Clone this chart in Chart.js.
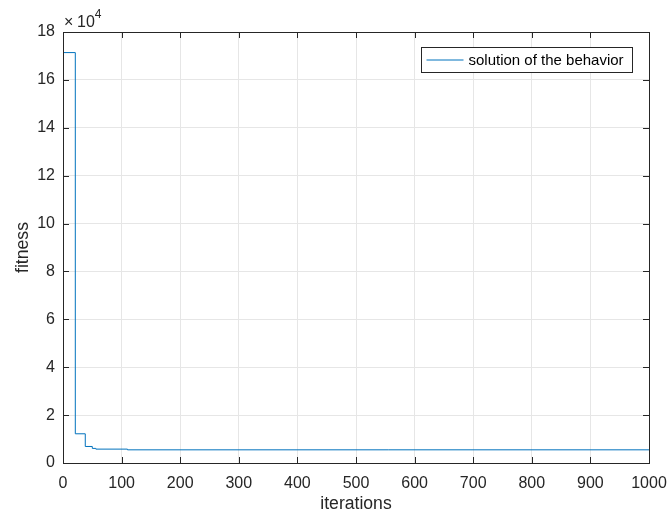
<!DOCTYPE html>
<html>
<head>
<meta charset="utf-8">
<script src="https://cdn.jsdelivr.net/npm/chart.js@4/dist/chart.umd.min.js"></script>
<style>
	html, body { margin: 0; padding: 0; background: #ffffff; }
	#wrap { width: 670px; height: 515px; }
</style>
</head>
<body>
<div id="wrap"><canvas id="fitnessChart" width="670" height="515"></canvas></div>
<script>
// change points of the best fitness (step curve)
const iterations = [1, 21, 38, 50, 56, 110, 1000];
const fitness = [171400, 12200, 6900, 6100, 5800, 5500, 5500];
const seriesLabel = 'solution of the behavior';
const xTicks = [0, 100, 200, 300, 400, 500, 600, 700, 800, 900, 1000];
const yTicks = [0, 2, 4, 6, 8, 10, 12, 14, 16, 18];
const yExponent = 4;

const axisColor = '#262626';
const gridColor = '#e6e6e6';
const lineColor = '#0072BD';
const fontFamily = '"Liberation Sans", Arial, sans-serif';

const points = iterations.map((it, i) => ({ x: it, y: fitness[i] }));

// box, inward ticks, exponent label and legend, matlab style
const matlabAxes = {
	id: 'matlabAxes',
	afterDraw(chart) {
		const { ctx, chartArea: area, scales: { x, y } } = chart;
		const tickLen = 6;
		ctx.save();
		ctx.strokeStyle = axisColor;
		ctx.lineWidth = 1;
		ctx.beginPath();
		xTicks.forEach((v) => {
			const px = Math.round(x.getPixelForValue(v)) + 0.5;
			ctx.moveTo(px, area.bottom);
			ctx.lineTo(px, area.bottom - tickLen);
			ctx.moveTo(px, area.top);
			ctx.lineTo(px, area.top + tickLen);
		});
		yTicks.forEach((v) => {
			const py = Math.round(y.getPixelForValue(v * 10 ** yExponent)) + 0.5;
			ctx.moveTo(area.left, py);
			ctx.lineTo(area.left + tickLen, py);
			ctx.moveTo(area.right, py);
			ctx.lineTo(area.right - tickLen, py);
		});
		ctx.stroke();
		ctx.strokeRect(Math.round(area.left) + 0.5, Math.round(area.top) + 0.5,
			Math.round(area.right - area.left), Math.round(area.bottom - area.top));

		// x10^4
		ctx.fillStyle = axisColor;
		ctx.textBaseline = 'alphabetic';
		ctx.textAlign = 'left';
		ctx.font = '16px ' + fontFamily;
		ctx.fillText('\u00d7', area.left + 1, area.top - 5);
		ctx.fillText('10', area.left + 14, area.top - 5);
		const w = ctx.measureText('10').width;
		ctx.font = '12px ' + fontFamily;
		ctx.fillText(String(yExponent), area.left + 14 + w, area.top - 14);

		// legend
		const box = { left: 421.5, top: 47.5, width: 211, height: 25 };
		ctx.fillStyle = '#ffffff';
		ctx.fillRect(box.left, box.top, box.width, box.height);
		ctx.strokeStyle = axisColor;
		ctx.strokeRect(box.left, box.top, box.width, box.height);
		const midY = box.top + box.height / 2;
		ctx.strokeStyle = lineColor;
		ctx.beginPath();
		ctx.moveTo(box.left + 5, midY);
		ctx.lineTo(box.left + 42, midY);
		ctx.stroke();
		ctx.fillStyle = '#000000';
		ctx.font = '15px ' + fontFamily;
		ctx.textBaseline = 'middle';
		ctx.fillText(chart.data.datasets[0].label, box.left + 47, midY + 1);
		ctx.restore();
	}
};

new Chart(document.getElementById('fitnessChart'), {
	type: 'line',
	data: {
		datasets: [{
			label: seriesLabel,
			data: points,
			borderColor: lineColor,
			borderWidth: 1,
			pointRadius: 0,
			stepped: 'before',
			fill: false,
		}]
	},
	options: {
		responsive: false,
		animation: false,
		events: [],
		layout: { padding: { top: 32, right: 21, left: 0, bottom: 0 } },
		plugins: { legend: { display: false }, tooltip: { enabled: false } },
		scales: {
			x: {
				type: 'linear',
				min: 0,
				max: 1000,
				afterFit: (scale) => {
					scale.height = 52;
					scale.paddingLeft = 0;
					scale.paddingRight = 0;
				},
				afterBuildTicks: (scale) => { scale.ticks = xTicks.map((v) => ({ value: v })); },
				grid: { color: gridColor, drawTicks: false },
				border: { display: false },
				ticks: {
					color: axisColor,
					padding: 11,
					maxRotation: 0,
					font: { size: 16, family: fontFamily },
					callback: (value) => String(value),
				},
				title: { display: true, text: 'iterations', color: axisColor, padding: { top: 0, bottom: 0 }, font: { size: 17.6, family: fontFamily } },
			},
			y: {
				type: 'linear',
				min: 0,
				max: 180000,
				afterFit: (scale) => { scale.width = 63; },
				afterBuildTicks: (scale) => { scale.ticks = yTicks.map((v) => ({ value: v * 10 ** yExponent })); },
				grid: { color: gridColor, drawTicks: false },
				border: { display: false },
				ticks: {
					color: axisColor,
					padding: 8,
					font: { size: 16, family: fontFamily },
					callback: (value) => String(value / 10 ** yExponent),
				},
				title: { display: true, text: 'fitness', color: axisColor, padding: { top: 13, bottom: 0 }, font: { size: 17.6, family: fontFamily } },
			}
		}
	},
	plugins: [matlabAxes],
});
</script>
</body>
</html>
